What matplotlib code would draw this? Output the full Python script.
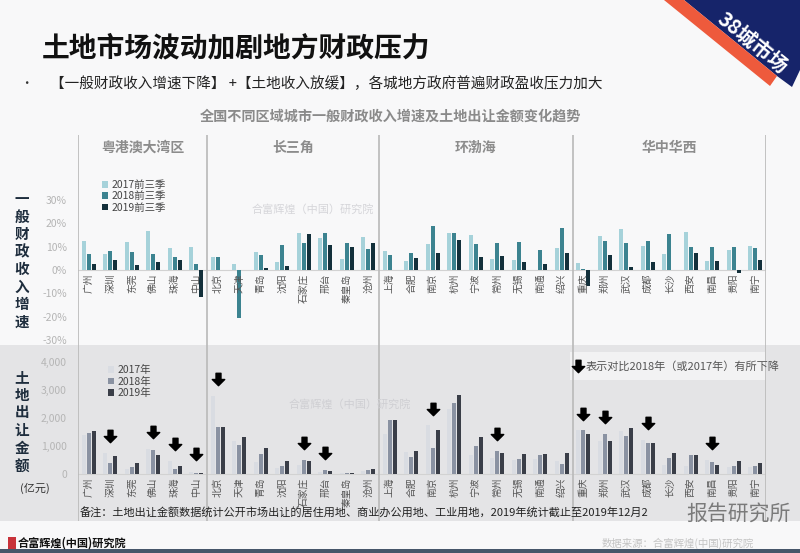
import matplotlib
matplotlib.use("Agg")
import matplotlib.pyplot as plt
from matplotlib.patches import Rectangle, Polygon
from matplotlib.path import Path
import numpy as np

plt.rcParams["font.family"] = ["Noto Sans CJK SC", "DejaVu Sans"]

# ---- data -------------------------------------------------------------
regions = ["粤港澳大湾区", "长三角", "环渤海", "华中华西"]
region_sizes = [6, 8, 9, 9]

cities = ["广州", "深圳", "东莞", "佛山", "珠海", "中山",
          "北京", "天津", "青岛", "沈阳", "石家庄", "邢台", "秦皇岛", "沧州",
          "上海", "合肥", "南京", "杭州", "宁波", "常州", "无锡", "南通", "绍兴",
          "重庆", "郑州", "武汉", "成都", "长沙", "西安", "南昌", "贵阳", "南宁"]

# 一般财政收入增速 (%)
fiscal_2017 = [12.3, 6.8, 12.1, 16.8, 9.3, 9.7,
               5.7, 2.8, 7.8, 3.3, 16.1, 13.7, 4.7, 14.0,
               8.0, 3.7, 11.1, 15.7, 15.2, 4.7, 4.4, 0.0, 9.4,
               3.0, 14.7, 17.4, 10.4, 6.8, 16.5, 4.0, 8.5, 10.4]
fiscal_2018 = [7.1, 8.3, 7.8, 7.1, 5.7, 2.8,
               5.7, -20.5, 6.4, 10.7, 11.5, 16.1, 11.4, 9.0,
               6.6, 7.4, 18.9, 15.7, 11.1, 11.4, 12.0, 8.8, 17.9,
               0.6, 12.5, 11.8, 12.3, 15.4, 10.0, 10.0, 10.0, 9.4]
fiscal_2019 = [2.6, 4.3, 2.1, 3.6, 4.3, -11.7,
               0.2, 0.0, 0.7, 1.7, 15.4, 10.8, 10.0, 11.4,
               0.0, 5.1, 7.5, 13.0, 5.8, 6.0, 3.4, 2.8, 7.5,
               -7.0, 6.3, 1.4, 3.4, 0.0, 7.4, 3.7, -1.4, 4.3]

# 土地出让金额 (亿元)
land_2017 = [1400, 735, 170, 890, 470, 50,
             2783, 1170, 410, 205, 313, 48, 20, 108,
             1434, 771, 1735, 2337, 687, 566, 494, 530, 446,
             1554, 1169, 1530, 1217, 325, 277, 494, 253, 253]
land_2018 = [1460, 385, 229, 855, 170, 36,
             1675, 1036, 700, 277, 506, 145, 15, 133,
             1916, 614, 928, 2518, 976, 819, 518, 687, 349,
             1554, 1434, 1349, 1096, 578, 663, 434, 289, 289]
land_2019 = [1530, 627, 385, 675, 290, 36,
             1675, 1300, 928, 458, 470, 96, 15, 157,
             1916, 831, 1578, 2819, 1313, 747, 711, 711, 735,
             1410, 1181, 1650, 1108, 735, 663, 301, 458, 398]

decline_cities = ["深圳", "佛山", "珠海", "中山", "北京", "石家庄", "邢台",
                  "南京", "常州", "重庆", "郑州", "成都", "南昌"]

fiscal_labels = ["2017前三季", "2018前三季", "2019前三季"]
land_labels = ["2017年", "2018年", "2019年"]
fiscal_colors = ["#a6d2da", "#3c8390", "#13303b"]
land_colors = ["#d9dce2", "#8a92a2", "#3a3e48"]

# ---- helpers ----------------------------------------------------------
W, H = 800, 553


def fx(x):
    return x / W


def fy(y):
    return 1 - y / H


fig = plt.figure(figsize=(8, 5.53), dpi=100, facecolor="#f8f8f9")

# grey band behind the land panel
fig.patches.append(Rectangle((0, fy(521)), 1, 176 / H, transform=fig.transFigure,
                             facecolor="#e4e4e6", edgecolor="none", zorder=-5))
fig.patches.append(Rectangle((fx(570), fy(380)), 195 / W, 28 / H, transform=fig.transFigure,
                             facecolor="#f2f2f3", edgecolor="none", zorder=-4))
# bottom strip
fig.patches.append(Rectangle((0, 0), 1, 4 / H, transform=fig.transFigure,
                             facecolor="#46566a", edgecolor="none", zorder=-3))


# top-right corner ribbon
def px_poly(pts, color):
    return Polygon([(fx(a), fy(b)) for a, b in pts], closed=True, transform=fig.transFigure,
                   facecolor=color, edgecolor="none", zorder=2)


fig.patches.append(px_poly([(684, 0), (800, 0), (800, 70), (792, 87), (777, 76)], "#16246a"))
fig.patches.append(px_poly([(664, 0), (684, 0), (777, 76), (770, 86)], "#ee5a3c"))
fig.text(fx(753), fy(43), "38城市场", color="white", fontsize=14.5, fontweight="bold",
         rotation=-39, ha="center", va="center", zorder=3)

x = np.arange(len(cities))
offsets = [-0.23, 0.0, 0.23]
bar_w = 0.18

ax_top = fig.add_axes([fx(78), fy(345), 688 / W, 210 / H])
ax_bot = fig.add_axes([fx(78), fy(521), 688 / W, 176 / H])

for ax in (ax_top, ax_bot):
    ax.set_facecolor("none")
    for s in ax.spines.values():
        s.set_visible(False)
    ax.set_xlim(-0.5, len(cities) - 0.5)
    ax.set_xticks([])
    ax.tick_params(axis="y", length=0, labelsize=7.5, labelcolor="#b5b5b5", pad=8)
    ax.axhline(0, color="#d2d2d2", lw=0.8, zorder=1)
    bounds = np.cumsum([0] + region_sizes) - 0.5
    for b in bounds:
        ax.axvline(b, color="#b9b9b9", lw=1.2, zorder=1)

# ---- fiscal growth panel ---------------------------------------------
fiscal = [fiscal_2017, fiscal_2018, fiscal_2019]
handles = []
for vals, off, c, lab in zip(fiscal, offsets, fiscal_colors, fiscal_labels):
    handles.append(ax_top.bar(x + off, vals, bar_w, color=c, label=lab, zorder=2))
ax_top.set_ylim(-32.1, 57.9)
ax_top.set_yticks(range(-30, 31, 10))
ax_top.set_yticklabels([f"{t}%" for t in range(-30, 31, 10)])
for i, name in enumerate(cities):
    ax_top.text(i, -1.6, name, rotation=90, ha="center", va="top", fontsize=7,
                color="#555555", zorder=3)
ax_top.legend(handles=handles, loc="upper left", bbox_to_anchor=(fx(97), fy(175)),
              bbox_transform=fig.transFigure, frameon=False, fontsize=7.5,
              handlelength=0.6, handleheight=0.6, handletextpad=0.3,
              labelspacing=0.12, borderpad=0, labelcolor="#444444")

start = 0
for name, n in zip(regions, region_sizes):
    ax_top.text(start + (n - 1) / 2, 52.3, name, ha="center", va="center",
                fontsize=10, fontweight="bold", color="#8c8c8c")
    start += n

# ---- land sales panel -------------------------------------------------
land = [land_2017, land_2018, land_2019]
handles = []
for vals, off, c, lab in zip(land, offsets, land_colors, land_labels):
    handles.append(ax_bot.bar(x + off, vals, bar_w, color=c, label=lab, zorder=2))
ax_bot.set_ylim(-1694, 4613)
ax_bot.set_yticks(range(0, 4001, 1000))
ax_bot.set_yticklabels([f"{t:,}" for t in range(0, 4001, 1000)])
for i, name in enumerate(cities):
    ax_bot.text(i, -150, name, rotation=90, ha="center", va="top", fontsize=7,
                color="#555555", zorder=3)
ax_bot.legend(handles=handles, loc="upper left", bbox_to_anchor=(fx(103), fy(360)),
              bbox_transform=fig.transFigure, frameon=False, fontsize=7.5,
              handlelength=0.6, handleheight=0.6, handletextpad=0.3,
              labelspacing=0.12, borderpad=0, labelcolor="#444444")

arrow = Path([(-0.2, 0.5), (0.2, 0.5), (0.2, 0.0), (0.5, 0.0), (0.0, -0.5),
              (-0.5, 0.0), (-0.2, 0.0), (-0.2, 0.5)], closed=True)
arrow_idx = [cities.index(c) for c in decline_cities]
arrow_y = [max(land_2017[i], land_2018[i], land_2019[i]) + 600 for i in arrow_idx]
arrow_y = [max(v, 700) for v in arrow_y]
ax_bot.scatter(arrow_idx, arrow_y, marker=arrow, s=80, color="black", zorder=4)
ax_bot.scatter([fx(578)], [fy(366)], marker=arrow, s=80, color="black",
               transform=fig.transFigure, clip_on=False, zorder=4)
fig.text(fx(586), fy(366), "表示对比2018年（或2017年）有所下降", fontsize=8,
         color="#555555", va="center")

# ---- text around the chart -------------------------------------------
fig.text(fx(42), fy(48), "土地市场波动加剧地方财政压力", fontsize=20,
         fontweight="heavy", va="center", color="#111111")
fig.text(fx(20), fy(84), "•", fontsize=9, va="center", color="#333333")
fig.text(fx(50), fy(84), "【一般财政收入增速下降】 +【土地收入放缓】，各城地方政府普遍财政盈收压力加大",
         fontsize=10.5, va="center", color="#222222")
fig.text(fx(390), fy(117), "全国不同区域城市一般财政收入增速及土地出让金额变化趋势",
         fontsize=10.2, fontweight="bold", ha="center", va="center", color="#8a8a8a")

for k, ch in enumerate("一般财政收入增速"):
    fig.text(fx(22), fy(199 + k * 17.5), ch, fontsize=10.5, fontweight="bold",
             ha="center", va="center", color="#1e2d3d")
for k, ch in enumerate("土地出让金额"):
    fig.text(fx(22), fy(377 + k * 17.7), ch, fontsize=10.5, fontweight="bold",
             ha="center", va="center", color="#1e2d3d")
fig.text(fx(35), fy(488), "(亿元)", fontsize=8, ha="center", va="center", color="#333333")

fig.text(fx(313), fy(209), "合富辉煌（中国）研究院", fontsize=8, ha="center",
         va="center", color="#d6d6da")
fig.text(fx(350), fy(404), "合富辉煌（中国）研究院", fontsize=8, ha="center",
         va="center", color="#cfcfd3")

fig.text(fx(80), fy(513.5), "备注：土地出让金额数据统计公开市场出让的居住用地、商业办公用地、工业用地，"
         "2019年统计截止至2019年12月2", fontsize=8, va="center", color="#222222")
fig.text(fx(686), fy(515), "报告研究所", fontsize=15, va="center", color="#7a7a7a",
         style="italic")

fig.patches.append(Rectangle((fx(8), fy(549)), 8 / W, 12 / H, transform=fig.transFigure,
                             facecolor="#c8323a", edgecolor="none"))
fig.text(fx(18), fy(543), "合富辉煌(中国)研究院", fontsize=8, fontweight="bold",
         va="center", color="#111111")
fig.text(fx(602), fy(543), "数据来源：合富辉煌(中国)研究院", fontsize=7.5,
         va="center", color="#c4c4c4")

fig.savefig("out.png", dpi=100, facecolor=fig.get_facecolor())
